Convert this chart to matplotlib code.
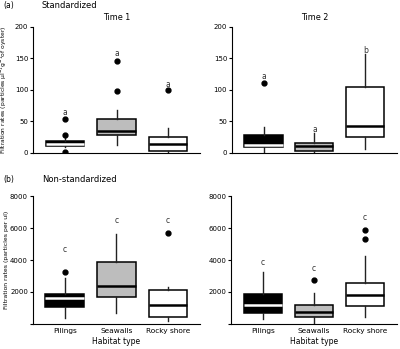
import matplotlib.pyplot as plt

# habitat categories
habitats = ["Pilings", "Seawalls", "Rocky shore"]
fills = ["black", "#bdbdbd", "white"]
median_cols = ["white", "black", "black"]

# (a) standardized, time 1
t1_q1 = [11, 29, 3]
t1_med = [14, 35, 14]
t1_q3 = [19, 54, 25]
t1_lo = [10, 12, 1]
t1_hi = [23, 68, 39]
t1_fliers = [[2, 29, 53], [98, 146], [100]]
t1_letters = ["a", "a", "a"]
t1_letter_y = [64, 158, 108]

# (a) standardized, time 2
t2_q1 = [10, 3, 25]
t2_med = [12.5, 10.5, 42]
t2_q3 = [29, 16, 105]
t2_lo = [1, 0, 6]
t2_hi = [41, 31, 157]
t2_fliers = [[111], [], []]
t2_letters = ["a", "a", "b"]
t2_letter_y = [122, 37, 162]

# (b) non-standardized, time 1
n1_q1 = [1080, 1690, 460]
n1_med = [1650, 2380, 1190]
n1_q3 = [1900, 3850, 2120]
n1_lo = [350, 700, 150]
n1_hi = [2850, 5600, 2290]
n1_fliers = [[3270], [], [5710]]
n1_letters = ["c", "c", "c"]
n1_letter_y = [4650, 6450, 6480]

# (b) non-standardized, time 2
n2_q1 = [670, 420, 1120]
n2_med = [1170, 770, 1810]
n2_q3 = [1850, 1210, 2580]
n2_lo = [290, 0, 400]
n2_hi = [3250, 1960, 4250]
n2_fliers = [[], [2730], [5290, 5900]]
n2_letters = ["c", "c", "c"]
n2_letter_y = [3830, 3450, 6680]

plt.rcParams["font.family"] = ["DejaVu Sans"]
fig = plt.figure(figsize=(4, 3.49), dpi=100)

def panel(rect, q1, med, q3, lo, hi, fl, letters, ly, ymax, yticks, show_x):
    ax = fig.add_axes(rect)
    stats = []
    for i in range(3):
        stats.append({"med": med[i], "q1": q1[i], "q3": q3[i],
                      "whislo": lo[i], "whishi": hi[i], "fliers": fl[i]})
    bp = ax.bxp(stats, positions=[1, 2, 3], widths=0.75, patch_artist=True,
                showcaps=False,
                whiskerprops=dict(color="#222222", linewidth=1),
                flierprops=dict(marker="o", markerfacecolor="black",
                                markeredgecolor="black", markersize=3.5))
    for i, box in enumerate(bp["boxes"]):
        box.set_facecolor(fills[i])
        box.set_edgecolor("black")
        box.set_linewidth(1.1)
        bp["medians"][i].set_color(median_cols[i])
        bp["medians"][i].set_linewidth(1.8)
    for i in range(3):
        ax.text(i + 1, ly[i], letters[i], ha="center", va="center",
                fontsize=5.5, color="#333333")
    ax.set_xlim(0.38, 3.62)
    ax.set_ylim(0, ymax)
    ax.set_yticks(yticks)
    ax.tick_params(axis="y", labelsize=5, length=2, width=0.8, pad=1.5)
    ax.spines["top"].set_visible(False)
    ax.spines["right"].set_visible(False)
    if show_x:
        ax.set_xticks([1, 2, 3])
        ax.set_xticklabels(habitats)
        ax.tick_params(axis="x", labelsize=5.3, length=0, pad=3)
        ax.set_xlabel("Habitat type", fontsize=5.5, labelpad=2)
    else:
        ax.set_xticks([])
    return ax

ax1 = panel([0.083, 0.562, 0.417, 0.361], t1_q1, t1_med, t1_q3, t1_lo, t1_hi,
            t1_fliers, t1_letters, t1_letter_y, 200, [0, 50, 100, 150, 200], False)
ax1.set_title("Time 1", fontsize=5.8, pad=5)
ax1.set_ylabel("Filtration rates (particles \u00b5l$^{-1}$g$^{-1}$of oyster)",
               fontsize=4.3)
ax1.yaxis.set_label_coords(-0.145, 0.5)

ax2 = panel([0.58, 0.562, 0.412, 0.361], t2_q1, t2_med, t2_q3, t2_lo, t2_hi,
            t2_fliers, t2_letters, t2_letter_y, 200, [0, 50, 100, 150, 200], False)
ax2.set_title("Time 2", fontsize=5.8, pad=5)

ax3 = panel([0.082, 0.072, 0.418, 0.366], n1_q1, n1_med, n1_q3, n1_lo, n1_hi,
            n1_fliers, n1_letters, n1_letter_y, 8000, [0, 2000, 4000, 6000, 8000], True)
ax3.set_yticklabels(["", "2000", "4000", "6000", "8000"])
ax3.set_ylabel("Filtration rates (particles per ul)", fontsize=4.4)
ax3.yaxis.set_label_coords(-0.145, 0.5)

ax4 = panel([0.578, 0.072, 0.414, 0.366], n2_q1, n2_med, n2_q3, n2_lo, n2_hi,
            n2_fliers, n2_letters, n2_letter_y, 8000, [0, 2000, 4000, 6000, 8000], True)
ax4.set_yticklabels(["", "2000", "4000", "6000", "8000"])

fig.text(0.008, 0.984, "(a)", fontsize=5.5, va="center")
fig.text(0.105, 0.984, "Standardized", fontsize=6, va="center")
fig.text(0.008, 0.487, "(b)", fontsize=5.5, va="center")
fig.text(0.105, 0.487, "Non-standardized", fontsize=6, va="center")

fig.savefig("out.png", dpi=100)
